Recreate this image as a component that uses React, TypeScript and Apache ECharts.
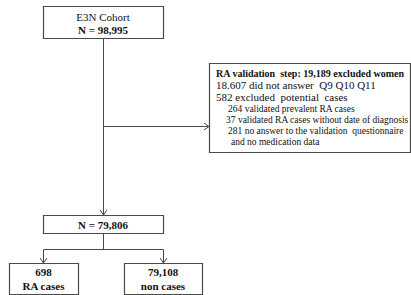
import React, { useEffect, useRef } from "react";
import * as echarts from "echarts";

// ---- data ----
const cohortName = "E3N Cohort";
const cohortTotal = ["N = 98,995"];
const exclusionTitle = ["RA validation  step: 19,189 excluded women"];
const exclusionLines = [
  "18.607 did not answer  Q9 Q10 Q11",
  "582 excluded  potential  cases",
  "264 validated prevalent RA cases",
  "37 validated RA cases without date of diagnosis",
  "281 no answer to the validation  questionnaire",
  "and no medication data",
];
const finalTotal = ["N = 79,806"];
const outcomeCounts = ["698", "79,108"];
const outcomeNames = ["RA cases", "non cases"];

const LINE = "#4a4a4a";
const FONT = "'Liberation Serif', 'Times New Roman', serif";

function box(x: number, y: number, w: number, h: number) {
  return {
    type: "rect",
    shape: { x: x + 0.5, y: y + 0.5, width: w, height: h },
    style: { fill: "#fff", stroke: LINE, lineWidth: 1.2 },
  };
}
function seg(x1: number, y1: number, x2: number, y2: number) {
  return {
    type: "line",
    shape: { x1: x1 + 0.5, y1: y1 + 0.5, x2: x2 + 0.5, y2: y2 + 0.5 },
    style: { stroke: LINE, lineWidth: 1 },
  };
}
function arrowDown(x: number, y: number) {
  return {
    type: "polyline",
    shape: { points: [[x - 3.5 + 0.5, y - 5], [x + 0.5, y], [x + 3.5 + 0.5, y - 5]] },
    style: { stroke: LINE, lineWidth: 1, fill: null },
  };
}
function arrowRight(x: number, y: number) {
  return {
    type: "polyline",
    shape: { points: [[x - 5, y - 3.5 + 0.5], [x, y + 0.5], [x - 5, y + 3.5 + 0.5]] },
    style: { stroke: LINE, lineWidth: 1, fill: null },
  };
}
function txt(s: string, x: number, y: number, bold: boolean, align: string = "center", size = 11) {
  return {
    type: "text",
    x,
    y,
    style: {
      text: s,
      fontFamily: FONT,
      fontSize: size,
      fontWeight: bold ? "bold" : "normal",
      fill: "#111",
      textAlign: align,
      textVerticalAlign: "middle",
    },
  };
}

export default function App() {
  const ref = useRef<HTMLDivElement>(null);
  useEffect(() => {
    if (!ref.current) return;
    const chart = echarts.init(ref.current, null, { renderer: "svg" });
    const cx = 103;
    const lineX = [216, 216, 228, 226, 228, 231];
    const lineY = [85, 97, 108.5, 119.5, 130.5, 141.5];
    const lineSize = [11, 11, 9.5, 9.5, 9.5, 9.5];
    const elements: any[] = [
      // main vertical line
      seg(cx, 38, cx, 215),
      arrowDown(cx, 215),
      // branch to exclusion box
      seg(cx, 126, 208, 126),
      arrowRight(209, 126),
      // top box
      box(43, 6, 120, 32),
      txt(cohortName, cx, 17, false),
      txt(cohortTotal[0], cx, 30, true),
      // exclusion box
      box(209, 63, 201, 89),
      txt(exclusionTitle[0], 216, 73.5, true, "left", 10),
      ...exclusionLines.map((s, i) => txt(s, lineX[i], lineY[i], false, "left", lineSize[i])),
      // final N box
      box(43, 215, 120, 18),
      txt(finalTotal[0], cx, 224.5, true),
      // branch to outcomes
      seg(cx, 233, cx, 249),
      seg(43, 249, 163, 249),
      seg(43, 249, 43, 263),
      seg(163, 249, 163, 263),
      arrowDown(43, 263),
      arrowDown(163, 263),
      box(9, 263, 69, 31),
      box(124, 263, 78, 31),
      txt(outcomeCounts[0], 43.5, 272, true),
      txt(outcomeNames[0], 43.5, 286, true),
      txt(outcomeCounts[1], 163, 272, true),
      txt(outcomeNames[1], 163, 286, true),
    ];
    chart.setOption({
      animation: false,
      backgroundColor: "#fff",
      graphic: { elements },
    });
    return () => chart.dispose();
  }, []);
  return (
    <div
      ref={ref}
      style={{ position: "fixed", left: 0, top: 0, width: 411, height: 295, background: "#fff" }}
    />
  );
}
